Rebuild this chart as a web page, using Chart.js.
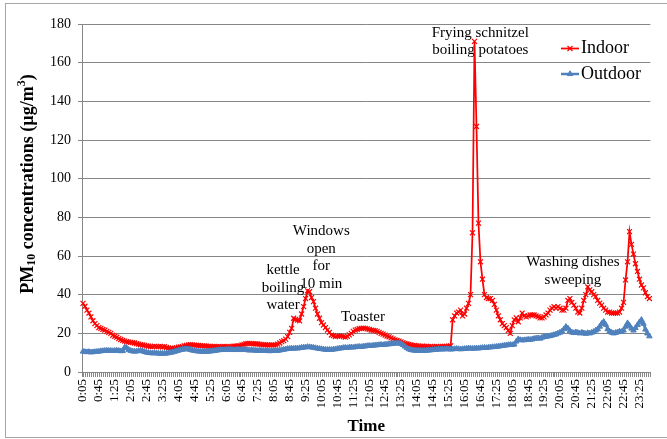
<!DOCTYPE html>
<html><head><meta charset="utf-8">
<script src="https://cdn.jsdelivr.net/npm/chart.js@4"></script>
<style>html,body{margin:0;padding:0;background:#fff}canvas{display:block}</style>
</head><body>
<canvas id="c" width="667" height="439"></canvas>
<script>
// ---- categories (5-minute readings, 0:05 .. 23:50) ----
const START_MIN = 5, STEP_MIN = 5, COUNT = 286;
const times = [];
for (let i = 0; i < COUNT; i++) {
  const m = START_MIN + i * STEP_MIN;
  times.push(Math.floor(m / 60) + ':' + String(m % 60).padStart(2, '0'));
}
const LABEL_EVERY = 8; // a tick label every 40 minutes

// ---- series values (µg/m³), rows of 8 = 40 minutes ----
const indoor = [
  35.5,34,32,30.5,28.5,26.5,25,24,
  23,22.6,22,21.7,21,20.5,20,19,
  18.5,18,17.3,16.8,16.4,16,15.7,15.5,
  15.3,15.2,15,14.7,14.4,14.2,14,13.8,
  13.5,13.4,13.2,13.1,13.3,13.1,13.1,13.2,
  13,13.1,12.7,12.4,12.2,12.3,12.2,12.5,
  12.8,13,13.1,13.5,13.8,14,14.1,14,
  13.9,13.8,13.7,13.6,13.5,13.5,13.4,13.3,
  13.2,13.1,13.2,13.1,13.1,13,13.1,13.2,
  13.1,13,13.1,13.3,13.4,13.4,13.5,13.6,
  14,14.3,14.6,14.8,14.8,14.6,14.5,14.6,
  14.5,14.3,14.2,14.1,14,14,13.9,14,
  14,14,14.4,15,15.7,16.2,17,18.3,
  20.5,22.6,27.8,27.2,26.9,26.4,30,33.8,
  38,42,41.5,38.5,36.4,33,30,27.8,
  25.5,24.3,23,21.7,20.5,19.1,18.8,18.3,
  18.6,18.7,18.6,18.3,18,18.5,19.2,20,
  21,21.7,22,22.4,22.6,22.7,22.6,22.3,
  22,21.7,21.5,21.4,21,20.5,20,19.6,
  19.1,18.6,18.2,17.6,17.1,16.6,16.3,15.9,
  15.6,15.2,14.8,14.5,14.3,14,13.8,13.7,
  13.5,13.4,13.3,13.4,13.2,13.3,13.1,13.2,
  13,13.1,13.2,13,13.1,13.2,13.3,13.2,
  13.4,13.5,27,29,30.5,31,32,29,
  30,33,35.5,40,72,171,127,77,
  57,48,40,38.5,38,38,37,35,
  32,29,27,25,24,23,21.5,20,
  24,27,28,26,28,30.5,29,28.5,
  29,29.5,29.5,29.5,29,28.6,28,28,
  28.5,29.5,30.5,32,33,33.8,33,33.8,
  33,32,32,33,37,38,36,34.6,
  33,31,30.5,33,37,40,44,42.5,
  41.5,40,39,37,35.6,34.6,33,32,
  31,31,30.5,30.5,30.5,30.5,31,33,
  36,47.6,57,72.6,66,61,56,52,
  48,45,43.5,41,39,38
];
const outdoor = [
  10.6,10.4,10.3,10.4,10.2,10.3,10.4,10.5,
  10.6,10.8,10.9,11,11.1,11,11,10.9,
  11,11.1,11,10.8,10.9,12.8,12.4,11.5,
  11,10.7,10.6,10.7,10.9,11,10.8,10.4,
  10.1,9.9,9.8,9.7,9.8,9.7,9.6,9.5,
  9.6,9.5,9.6,9.8,10,10.2,10.5,10.8,
  11.1,11.4,11.6,11.8,11.9,11.8,11.5,11.2,
  11,10.8,10.7,10.6,10.5,10.6,10.5,10.6,
  10.7,10.8,11,11.1,11.3,11.4,11.5,11.4,
  11.6,11.5,11.6,11.5,11.4,11.5,11.6,11.4,
  11.5,11.6,11.4,11.3,11.2,11.3,11.2,11.1,
  11,11.1,11,10.9,11,10.9,10.8,10.9,
  11,11.1,11,11.2,11.4,11.6,11.8,12,
  12.1,12.2,12.1,12.3,12.2,12.4,12.6,12.7,
  12.8,13,12.9,12.8,12.6,12.4,12.2,12,
  11.9,11.7,11.6,11.5,11.6,11.5,11.7,11.8,
  12,12.2,12.3,12.5,12.6,12.5,12.7,12.8,
  12.7,12.9,13,13.1,13,13.2,13.3,13.5,
  13.6,13.5,13.7,13.8,13.9,14,14.1,14,
  14.2,14.3,14.4,14.5,14.6,14.8,14.9,14.8,
  14.6,14,13.2,12.4,11.8,11.4,11.2,11.1,
  11,11.1,11,10.9,11,11.1,11.2,11.3,
  11.4,11.5,11.6,11.7,11.8,11.7,11.8,11.9,
  11.8,11.7,11.8,11.9,12,11.9,11.8,11.9,
  12,12.1,12.3,12.2,12.1,12.2,12.3,12.2,
  12.4,12.5,12.6,12.5,12.7,12.8,12.9,13,
  13.1,13.2,13.4,13.5,13.7,13.8,14,14.1,
  14,14.3,15.8,17,16.6,16.4,16.5,16.6,
  16.8,16.7,16.9,17.2,17.4,17.5,17.3,17.8,
  18.2,18.3,18.5,18.6,18.9,19.2,19.5,20,
  20.4,21,22.2,23.4,22.6,21.3,20.5,20.2,
  20.6,20.3,20,20.4,20.1,19.8,20.2,20,
  20.4,20.8,21.5,22.2,23.5,25,26,24.5,
  22.2,21,20.4,20,20.3,20.6,21,20.8,
  21.5,23.5,25.3,24,22.5,21.5,22.8,24.3,
  25.8,27,25,22,20,18.5
];
const seriesNames = ['Indoor', 'Outdoor'];
const yMin = 0, yMax = 180, yStep = 20;

// ---- event notes, anchored in data space (category index, value) ----
const notes = [
  { lines: ['kettle', 'boiling', 'water'], idx: 100.7, val: 52.8 },
  { lines: ['Windows', 'open', 'for', '10 min'], idx: 119.9, val: 72.9 },
  { lines: ['Toaster'], idx: 140.9, val: 28.5 },
  { lines: ['Frying schnitzel', 'boiling potatoes'], idx: 199.9, val: 175.5 },
  { lines: ['Washing dishes', 'sweeping'], idx: 246.5, val: 56.8 }
];

// ---- styling ----
const SERIF = '"Liberation Serif", "Times New Roman", serif';
Chart.defaults.font.family = SERIF;
Chart.defaults.color = '#000';
const GRID = '#868686';
const RED = '#FF0000', BLUE = '#4F81BD';

const decor = {
  id: 'decor',
  beforeDraw(chart) {
    const c = chart.ctx;
    c.save();
    c.fillStyle = '#fff';
    c.fillRect(0, 0, chart.width, chart.height);
    c.strokeStyle = '#a6a6a6';
    c.lineWidth = 1;
    c.strokeRect(5.5, 3.5, 700, 434);
    c.restore();
  },
  beforeDatasetsDraw(chart) {
    const c = chart.ctx, xs = chart.scales.x, ys = chart.scales.y;
    c.save();
    c.font = '15px ' + SERIF;
    c.fillStyle = '#000';
    c.textAlign = 'center';
    c.textBaseline = 'middle';
    notes.forEach(n => {
      const x = xs.getPixelForValue(n.idx);
      const y0 = ys.getPixelForValue(n.val);
      n.lines.forEach((t, k) => c.fillText(t, x, y0 + k * 17.7));
    });
    c.restore();
  },
  afterDraw(chart) {
    const c = chart.ctx;
    // y-axis title with subscript / superscript
    const parts = [
      { t: 'PM', s: 18, dy: 0 },
      { t: '10', s: 12, dy: 4 },
      { t: ' concentrations (\u00b5g/m', s: 18, dy: 0 },
      { t: '3', s: 12, dy: -6 },
      { t: ')', s: 18, dy: 0 }
    ];
    c.save();
    let total = 0;
    parts.forEach(p => { c.font = 'bold ' + p.s + 'px ' + SERIF; p.w = c.measureText(p.t).width; total += p.w; });
    c.translate(28, 184);
    c.rotate(-Math.PI / 2);
    c.fillStyle = '#000';
    c.textBaseline = 'middle';
    c.textAlign = 'left';
    let x = -total / 2;
    parts.forEach(p => { c.font = 'bold ' + p.s + 'px ' + SERIF; c.fillText(p.t, x, p.dy); x += p.w; });
    c.restore();

    // legend inside plot area
    c.save();
    chart.data.datasets.forEach((ds, k) => {
      const ly = 48.5 + k * 25.5;
      c.strokeStyle = ds.borderColor;
      c.lineWidth = ds.borderWidth;
      c.beginPath(); c.moveTo(561, ly); c.lineTo(579, ly); c.stroke();
      c.fillStyle = ds.pointBackgroundColor;
      c.strokeStyle = ds.pointBorderColor;
      c.lineWidth = ds.pointBorderWidth;
      Chart.helpers.drawPoint(c, { pointStyle: ds.pointStyle, radius: ds.pointRadius, borderWidth: ds.pointBorderWidth, rotation: 0 }, 570, ly);
      c.fillStyle = '#000';
      c.font = '18px ' + SERIF;
      c.textBaseline = 'middle';
      c.textAlign = 'left';
      c.fillText(ds.label, 581, ly);
    });
    c.restore();
  }
};

new Chart(document.getElementById('c'), {
  type: 'line',
  data: {
    labels: times,
    datasets: [
      { label: seriesNames[0], data: indoor, borderColor: RED, borderWidth: 1.75,
        pointStyle: 'crossRot', pointRadius: 3.5, pointBorderWidth: 1.2,
        pointBackgroundColor: RED, pointBorderColor: RED, tension: 0, order: 1 },
      { label: seriesNames[1], data: outdoor, borderColor: BLUE, borderWidth: 2.5,
        pointStyle: 'triangle', pointRadius: 3.2, pointBorderWidth: 1,
        pointBackgroundColor: BLUE, pointBorderColor: BLUE, tension: 0, order: 0 }
    ]
  },
  options: {
    responsive: false,
    devicePixelRatio: 1,
    animation: false,
    events: [],
    layout: { padding: { top: 24, right: 3, bottom: 0, left: 0 } },
    plugins: { legend: { display: false }, tooltip: { enabled: false } },
    scales: {
      x: {
        type: 'category',
        offset: true,
        grid: { drawOnChartArea: false, drawTicks: true, tickLength: 5, color: GRID, offset: true },
        border: { color: GRID, width: 1 },
        ticks: {
          autoSkip: false, maxRotation: 90, minRotation: 90, padding: 2,
          font: { size: 13 }, color: '#000',
          callback: (v, i) => (i % LABEL_EVERY === 0 ? times[i] : '')
        },
        title: { display: true, text: 'Time', font: { size: 17, weight: 'bold' }, color: '#000', padding: { top: 0, bottom: 2 } },
        afterFit: (s) => { s.height = 67; }
      },
      y: {
        min: yMin, max: yMax,
        ticks: { stepSize: yStep, padding: 7, font: { size: 14 }, color: '#000' },
        grid: { color: GRID, tickLength: 4, drawTicks: true },
        border: { color: GRID, width: 1 },
        afterFit: (s) => { s.width = 82; }
      }
    }
  },
  plugins: [decor]
});
</script>
</body></html>
